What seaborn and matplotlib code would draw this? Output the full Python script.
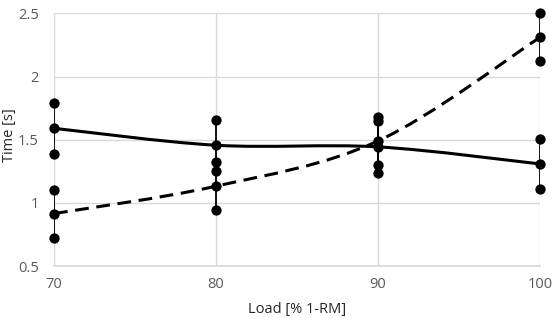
import numpy as np
import pandas as pd
import seaborn as sns
import matplotlib.pyplot as plt
from matplotlib.path import Path
from matplotlib.patches import PathPatch

# data
load = [70, 80, 90, 100]
solid_mean = [1.59, 1.456, 1.443, 1.308]
solid_sd = [0.20, 0.202, 0.203, 0.20]
dashed_mean = [0.915, 1.132, 1.49, 2.31]
dashed_sd = [0.19, 0.19, 0.19, 0.19]

x_ticks = [70, 80, 90, 100]
y_ticks = [0.5, 1, 1.5, 2, 2.5]
y_tick_labels = ['0.5', '1', '1.5', '2', '2.5']

sns.set_theme(style='white')
plt.rcParams['font.family'] = ['Open Sans', 'DejaVu Sans']

fig = plt.figure(figsize=(5.53, 3.18), dpi=100)
ax = fig.add_axes([0.0977, 0.1635, 0.8788, 0.7945])


def smooth_path(xs, ys):
    # excel-style smoothed line: cubic bezier segments through the points
    pts = np.column_stack([xs, ys]).astype(float)
    verts = [pts[0]]
    codes = [Path.MOVETO]
    n = len(pts)
    for i in range(n - 1):
        p0 = pts[i - 1] if i > 0 else pts[i]
        p1 = pts[i]
        p2 = pts[i + 1]
        p3 = pts[i + 2] if i + 2 < n else pts[i + 1]
        c1 = p1 + (p2 - p0) / 6.0
        c2 = p2 - (p3 - p1) / 6.0
        verts += [c1, c2, p2]
        codes += [Path.CURVE4] * 3
    return Path(verts, codes)


for mean, ls in [(solid_mean, '-'), (dashed_mean, (0, (4.5, 2.5)))]:
    ax.add_patch(PathPatch(smooth_path(load, mean), fill=False,
                           edgecolor='black', lw=2.2, linestyle=ls,
                           capstyle='butt', zorder=3))

# error bars: thin vertical lines with dots at the ends
rows = []
for mean, sd in [(solid_mean, solid_sd), (dashed_mean, dashed_sd)]:
    for x, m, s in zip(load, mean, sd):
        ax.vlines(x, m - s, m + s, color='black', lw=1.3, zorder=3)
        rows += [(x, m - s), (x, m), (x, m + s)]
pts = pd.DataFrame(rows, columns=['load', 'time'])
sns.scatterplot(data=pts, x='load', y='time', ax=ax, color='black', s=55,
                edgecolor='black', linewidth=0, zorder=4, clip_on=False)

ax.set_xlim(70, 100)
ax.set_ylim(0.5, 2.5)
ax.set_xticks(x_ticks)
ax.set_yticks(y_ticks)
ax.set_yticklabels(y_tick_labels)
ax.grid(True, color='#d9d9d9', lw=1)
ax.set_axisbelow(True)
for sp in ['top', 'right', 'left']:
    ax.spines[sp].set_visible(False)
ax.spines['bottom'].set_color('#d9d9d9')
ax.tick_params(axis='both', length=0, labelsize=10.5, colors='#595959')
ax.tick_params(axis='x', pad=8)
ax.tick_params(axis='y', pad=11)
ax.set_xlabel('Load [% 1-RM]', fontsize=10.5, color='#262626', va='center')
ax.set_ylabel('Time [s]', fontsize=10.5, color='#262626', va='center')
ax.xaxis.set_label_coords(0.5, -0.172)
ax.yaxis.set_label_coords(-0.092, 0.52)

fig.savefig('out.png', dpi=100)
